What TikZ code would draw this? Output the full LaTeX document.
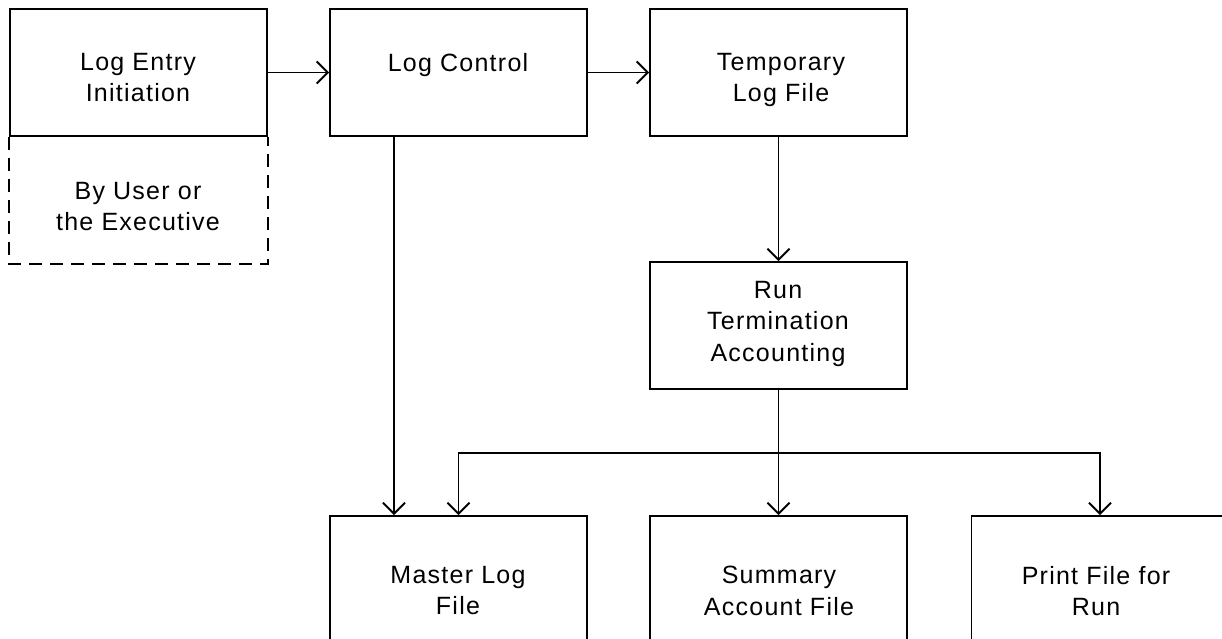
\documentclass[tikz,border=0pt]{standalone}
\usepackage{fontspec}
\setmainfont{Liberation Sans}[LetterSpace=5]
\usetikzlibrary{arrows.meta}
\begin{document}
\begin{tikzpicture}[x=1pt,y=-1pt,
  line/.style={line width=1.9pt},
  arr/.style={line, -{Straight Barb[length=11pt,width=22pt]}},
  box/.style={draw, line width=1.9pt, inner sep=0pt,
              minimum width=257pt, minimum height=127pt},
  openbox/.style={draw, line width=1.9pt, inner sep=0pt,
              minimum width=257pt, minimum height=250pt},
  dashbox/.style={line, dash pattern=on 13pt off 8pt},
  txt/.style={align=center, inner sep=0pt, anchor=north,
              font=\fontsize{25}{31.5}\selectfont}]
\useasboundingbox (0,0) rectangle (1222,639);
\clip (0,0) rectangle (1222,639);

% top row
\node[box] (entry)  at (138.5,72.5) {};
\node[box] (logctl) at (458.5,72.5) {};
\node[box] (temp)   at (778.5,72.5) {};
% dashed extension under the entry box
\draw[dashbox] (entry.south west) -- ++(0,127) -| (entry.south east);

% middle
\node[box] (run) at (778.5,325.5) {};

% bottom row (boxes run off the lower edge)
\node[openbox] (master)  at (458.5,641) {};
\node[openbox] (summary) at (778.5,641) {};
\node[openbox] (print)   at (1100,641) {};

% labels
\node[txt] (tentry)  at (138,53)  {Log Entry\\Initiation};
\node[txt] (tlogctl) at (458,53)  {Log Control};
\node[txt] (ttemp)   at (781,53)  {Temporary\\Log File};
\node[txt] (tuser)   at (138,182) {By User or\\the Executive};
\node[txt] (trun)    at (778,281) {Run\\Termination\\Accounting};
\node[txt] (tmaster) at (458,566) {Master Log\\File};
\node[txt] (tsumm)   at (779,566) {Summary\\Account File};
\node[txt] (tprint)  at (1096,566) {Print File for\\Run};

% connectors
\draw[arr] (entry) -- (logctl);
\draw[arr] (logctl) -- (temp);
\draw[arr] ([xshift=-64.5pt]logctl.south) -- ([xshift=-64.5pt]master.north);
\draw[arr] (temp) -- (run);
\coordinate (split) at (778.5,453);
\draw[line] (run.south) -- (split);
\draw[arr] (split) -- (summary.north);
\draw[arr] (split) -| (master.north);
\draw[arr] (split) -| (print.north);
\end{tikzpicture}
\end{document}
